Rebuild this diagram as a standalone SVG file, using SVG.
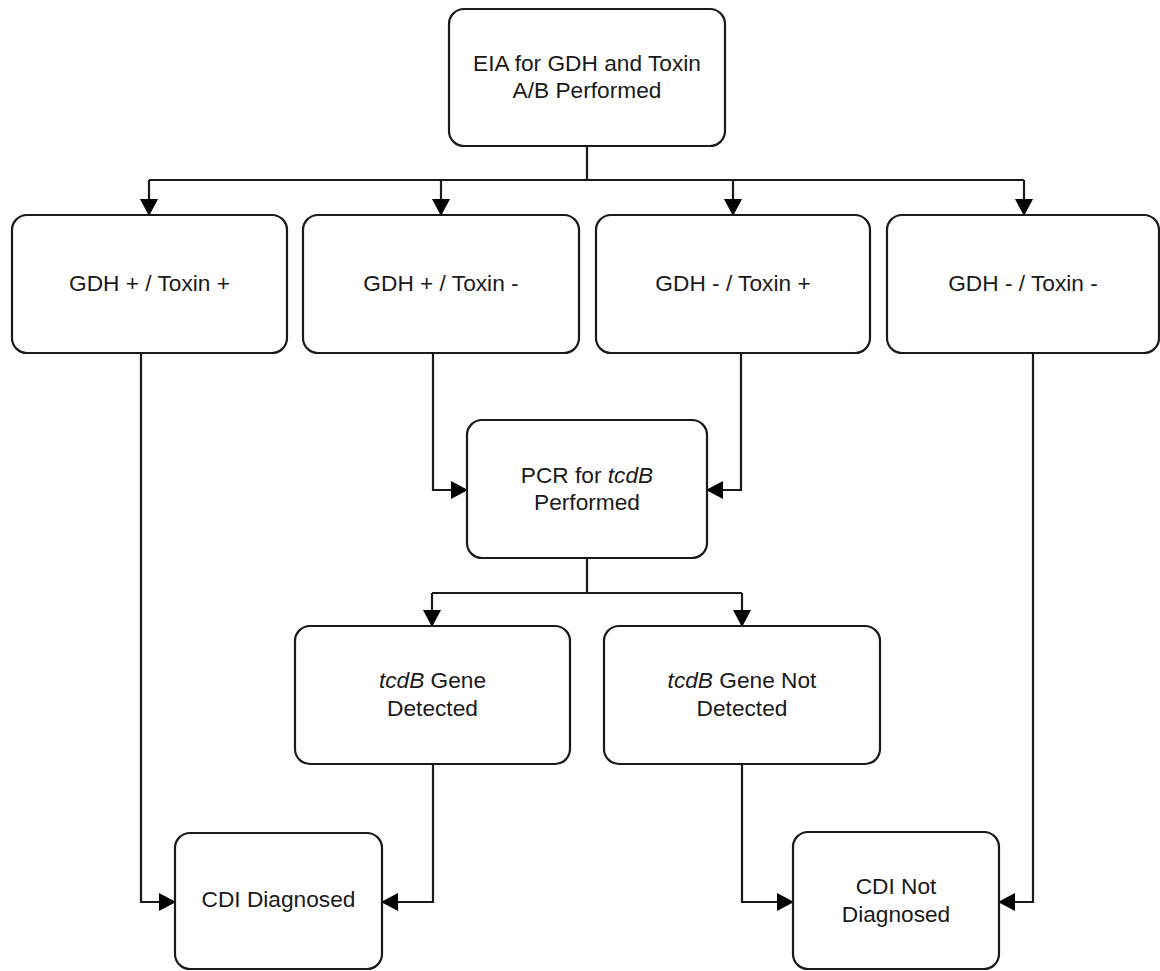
<svg xmlns="http://www.w3.org/2000/svg" width="1160" height="971" viewBox="0 0 1160 971">
<style>
.box{fill:#fff;stroke:#1a1a1a;stroke-width:2.2}
.lbl{font-family:"Liberation Sans",Arial,sans-serif;font-size:22.7px;fill:#1a1a1a;text-anchor:middle}
.con{fill:none;stroke:#1a1a1a;stroke-width:2.2;marker-end:url(#ah)}
.ln{fill:none;stroke:#1a1a1a;stroke-width:2.2}
</style>
<defs>
<marker id="ah" markerUnits="userSpaceOnUse" markerWidth="17" markerHeight="18" refX="16" refY="9" orient="auto" viewBox="0 0 17 18">
<path d="M0,0 L17,9 L0,18 z" fill="#000"/>
</marker>
</defs>
<rect width="1160" height="971" fill="#fff"/>
<g id="connectors">
<path class="ln" d="M587,146 V180 M149,180 H1024"/>
<path class="con" d="M149,180 V215"/>
<path class="con" d="M441,180 V215"/>
<path class="con" d="M733,180 V215"/>
<path class="con" d="M1024,180 V215"/>
<path class="con" d="M141,353 V902 H175"/>
<path class="con" d="M433,353 V490 H467"/>
<path class="con" d="M741,353 V490 H707"/>
<path class="con" d="M1033,353 V902 H999"/>
<path class="ln" d="M587,558 V593 M432,593 H742"/>
<path class="con" d="M432,593 V626"/>
<path class="con" d="M742,593 V626"/>
<path class="con" d="M433,764 V902 H382"/>
<path class="con" d="M742,764 V902 H793"/>
</g>
<g id="eia">
<rect class="box" x="449" y="9" width="276" height="137" rx="15"/>
<text class="lbl" x="587" y="71">EIA for GDH and Toxin</text>
<text class="lbl" x="587" y="98">A/B Performed</text>
</g>
<g id="gdhp_toxp">
<rect class="box" x="12" y="215" width="275" height="138" rx="15"/>
<text class="lbl" x="149.5" y="291">GDH + / Toxin +</text>
</g>
<g id="gdhp_toxn">
<rect class="box" x="303" y="215" width="276" height="138" rx="15"/>
<text class="lbl" x="441" y="291">GDH + / Toxin -</text>
</g>
<g id="gdhn_toxp">
<rect class="box" x="596" y="215" width="274" height="138" rx="15"/>
<text class="lbl" x="733" y="291">GDH - / Toxin +</text>
</g>
<g id="gdhn_toxn">
<rect class="box" x="887" y="215" width="272" height="138" rx="15"/>
<text class="lbl" x="1023" y="291">GDH - / Toxin -</text>
</g>
<g id="pcr">
<rect class="box" x="467" y="420" width="240" height="138" rx="15"/>
<text class="lbl" x="587" y="483">PCR for <tspan font-style="italic">tcdB</tspan></text>
<text class="lbl" x="587" y="510">Performed</text>
</g>
<g id="detected">
<rect class="box" x="295" y="626" width="275" height="138" rx="15"/>
<text class="lbl" x="432.5" y="688"><tspan font-style="italic">tcdB</tspan> Gene</text>
<text class="lbl" x="432.5" y="716">Detected</text>
</g>
<g id="notdetected">
<rect class="box" x="604" y="626" width="276" height="138" rx="15"/>
<text class="lbl" x="742" y="688"><tspan font-style="italic">tcdB</tspan> Gene Not</text>
<text class="lbl" x="742" y="716">Detected</text>
</g>
<g id="cdi_diag">
<rect class="box" x="175" y="833" width="207" height="136" rx="15"/>
<text class="lbl" x="278.5" y="907">CDI Diagnosed</text>
</g>
<g id="cdi_notdiag">
<rect class="box" x="793" y="832" width="206" height="137" rx="15"/>
<text class="lbl" x="896" y="894">CDI Not</text>
<text class="lbl" x="896" y="922">Diagnosed</text>
</g>
</svg>
